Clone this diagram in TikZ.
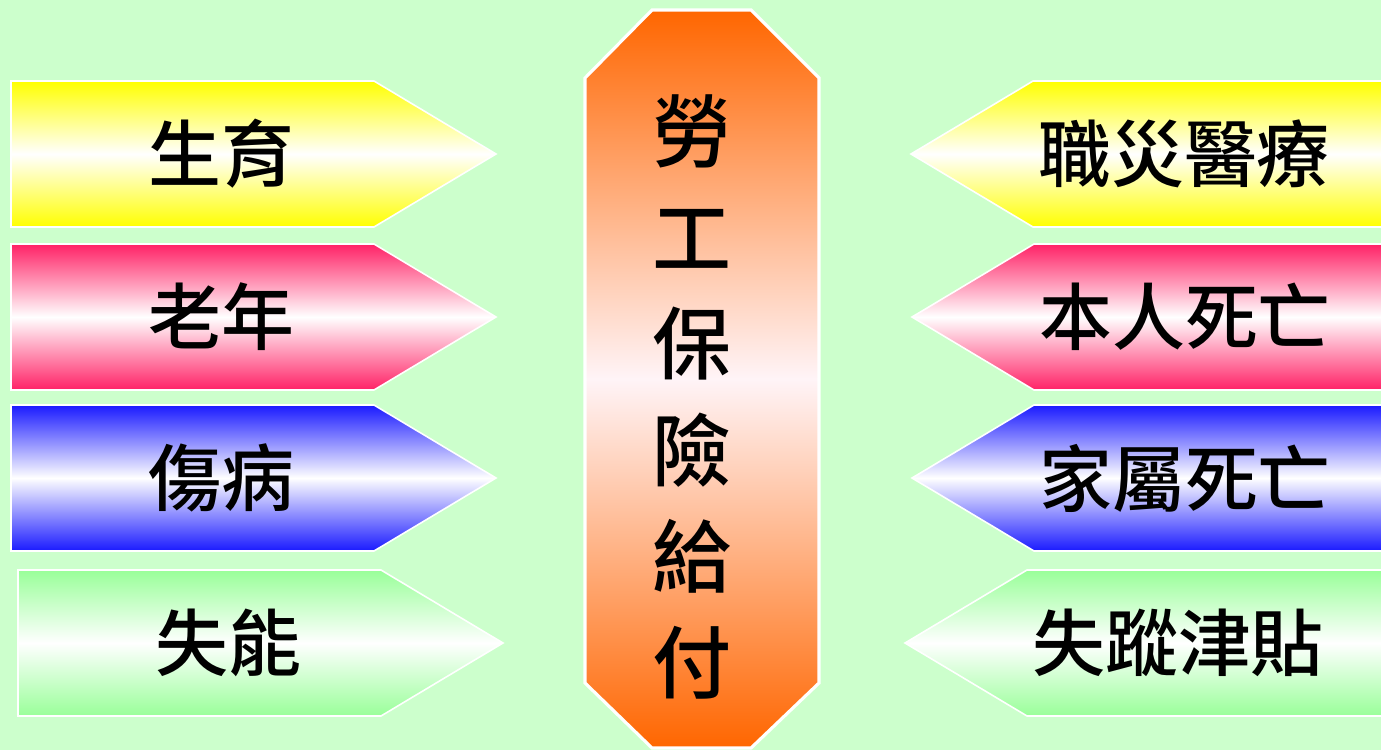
\documentclass[tikz,border=0pt]{standalone}
\usepackage{fontspec}
\newfontfamily\cjk{Noto Sans CJK TC Medium}
\usepackage{tikz}
\usetikzlibrary{positioning, calc}

\definecolor{bgmint}{HTML}{CCFFCC}
\definecolor{sunny}{HTML}{FFFF00}
\definecolor{rosy}{HTML}{FF2266}
\definecolor{deepblue}{HTML}{1A1AFF}
\definecolor{leafy}{HTML}{99FF99}
\definecolor{tangerine}{HTML}{FF6600}

\begin{document}
\begin{tikzpicture}[x=0.02cm, y=-0.02cm]
    % Styles
    \tikzstyle{arrowfill} = [draw=white, line width=0.9pt]
    \tikzstyle{centerfill} = [draw=white, line width=1.8pt, top color=tangerine, bottom color=tangerine, middle color=white!95!rosy]
    \tikzstyle{label} = [font=\cjk\fontsize{41.5}{44}\selectfont, text=black, inner sep=0pt]
    \tikzstyle{title} = [font=\cjk\fontsize{45}{60.4}\selectfont, text=black, align=center, inner sep=0pt]

    % --- BACKGROUND ---
    \fill[bgmint] (0,0) rectangle (1381,750);
    \useasboundingbox (0,0) rectangle (1381,750);
    \clip (0,0) rectangle (1381,750);

    % --- LEFT: pointing right ---
    \foreach \n/\t/\x/\lab/\col in {birth/81/11/生育/sunny, old/244/11/老年/rosy, sick/405/11/傷病/deepblue, disab/570/18/失能/leafy} {
        \shade[arrowfill, top color=\col, bottom color=\col, middle color=white] (\x,\t) -- ++(363,0) -- ++(122,73) -- ++(-122,73) -- ++(-363,0) -- cycle;
        \node[label] (\n) at (\x+210,\t+73) {\lab};
    }

    % --- RIGHT: pointing left ---
    \foreach \n/\t/\x/\lab/\col in {injury/81/911/職災醫療/sunny, self/244/912/本人死亡/rosy, family/405/912/家屬死亡/deepblue, missing/570/905/失蹤津貼/leafy} {
        \shade[arrowfill, top color=\col, bottom color=\col, middle color=white] (\x,\t+73) -- ++(122,-73) -- (1392,\t) -- (1392,\t+146) -- (\x+122,\t+146) -- cycle;
        \node[label] (\n) at (\x+273,\t+73) {\lab};
    }

    % --- CENTER ---
    \shade[centerfill] (652,10) -- (751,10) -- (819,78) -- (819,683) -- (751,748) -- (652,748) -- (585,683) -- (585,78) -- cycle;
    \node[title] (benefit) at (692,397) {勞\\工\\保\\險\\給\\付};

\end{tikzpicture}
\end{document}
